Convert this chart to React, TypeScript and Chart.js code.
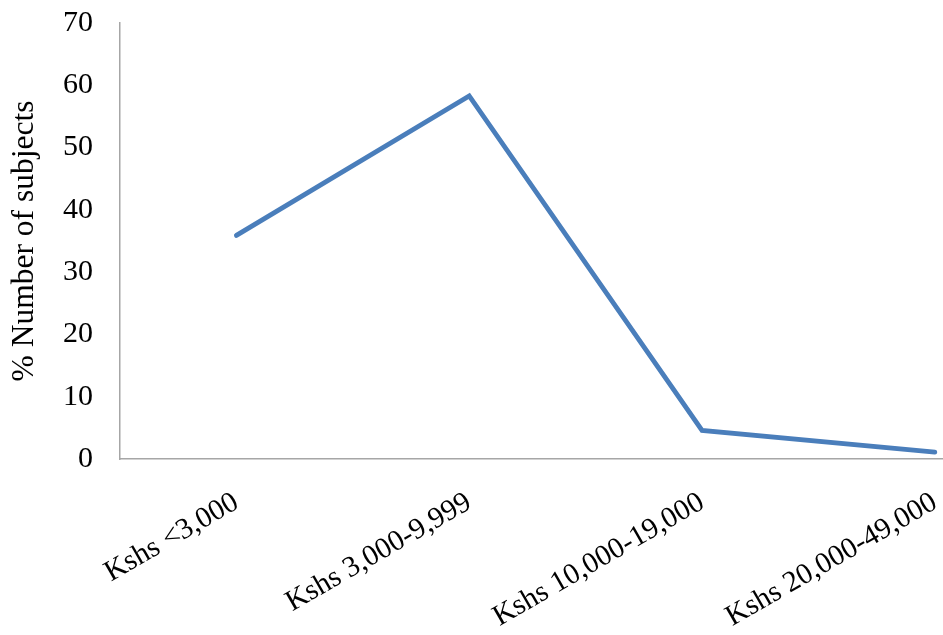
import React, { useEffect, useRef } from "react";
import { Chart, registerables } from "chart.js";

Chart.register(...registerables);

// Income bands shown along the horizontal axis
const categories = [
  "Kshs <3,000",
  "Kshs 3,000-9,999",
  "Kshs 10,000-19,000",
  "Kshs 20,000-49,000",
];

// Share of subjects in each band (%)
const percentSubjects = [35.9, 58.3, 4.6, 1.1];

// Vertical axis ticks
const yTicks = [0, 10, 20, 30, 40, 50, 60, 70];

const SERIF = "'Liberation Serif', 'Times New Roman', serif";

// Keep the plot area fixed: the axes may not reserve extra edge space for labels
const noEdgePadding = (scale: any) => {
  scale.paddingTop = 0;
  scale.paddingBottom = 0;
  scale.paddingLeft = 0;
  scale.paddingRight = 0;
};

export default function App() {
  const canvasRef = useRef<HTMLCanvasElement | null>(null);

  useEffect(() => {
    const canvas = canvasRef.current;
    if (!canvas) return;

    const points = percentSubjects.map((v, i) => ({ x: i, y: v }));

    const chart = new Chart(canvas, {
      type: "line",
      data: {
        datasets: [
          {
            label: "% Number of subjects",
            data: points,
            borderColor: "#4a7ebb",
            borderWidth: 4.8,
            pointRadius: 0,
            pointHoverRadius: 0,
            tension: 0,
            fill: false,
            borderCapStyle: "round",
            borderJoinStyle: "miter",
          },
        ],
      },
      options: {
        animation: false,
        responsive: true,
        maintainAspectRatio: false,
        layout: { padding: { top: 23, right: 0, left: 0, bottom: 0 } },
        plugins: {
          legend: { display: false },
          tooltip: { enabled: false },
        },
        scales: {
          x: {
            type: "linear",
            min: -0.5,
            max: 3.035,
            afterBuildTicks: (scale: any) => {
              scale.ticks = categories.map((_, i) => ({ value: i }));
            },
            afterFit: (scale: any) => {
              scale.height = 176;
              noEdgePadding(scale);
            },
            grid: { display: false, drawTicks: false },
            border: { display: true, color: "#a6a6a6", width: 1.5 },
            ticks: {
              autoSkip: false,
              minRotation: 30,
              maxRotation: 30,
              padding: 26,
              color: "#000000",
              font: { family: SERIF, size: 29.5 },
              callback: (value: any) => categories[Number(value)] ?? "",
            },
          },
          y: {
            min: 0,
            max: 70,
            afterBuildTicks: (scale: any) => {
              scale.ticks = yTicks.map((v) => ({ value: v }));
            },
            afterFit: (scale: any) => {
              scale.width = 120;
              noEdgePadding(scale);
            },
            grid: { display: false, drawTicks: false },
            border: { display: true, color: "#a6a6a6", width: 1.5 },
            ticks: {
              padding: 27,
              color: "#000000",
              font: { family: SERIF, size: 30 },
            },
            title: {
              display: true,
              text: "% Number of subjects",
              color: "#000000",
              font: { family: SERIF, size: 31.5, weight: "normal" },
              padding: { top: 6, bottom: 0 },
            },
          },
        },
      },
    });

    return () => chart.destroy();
  }, []);

  return (
    <div
      style={{
        position: "absolute",
        left: 0,
        top: 0,
        width: 943,
        height: 635,
        background: "#ffffff",
      }}
    >
      <canvas ref={canvasRef} />
    </div>
  );
}
